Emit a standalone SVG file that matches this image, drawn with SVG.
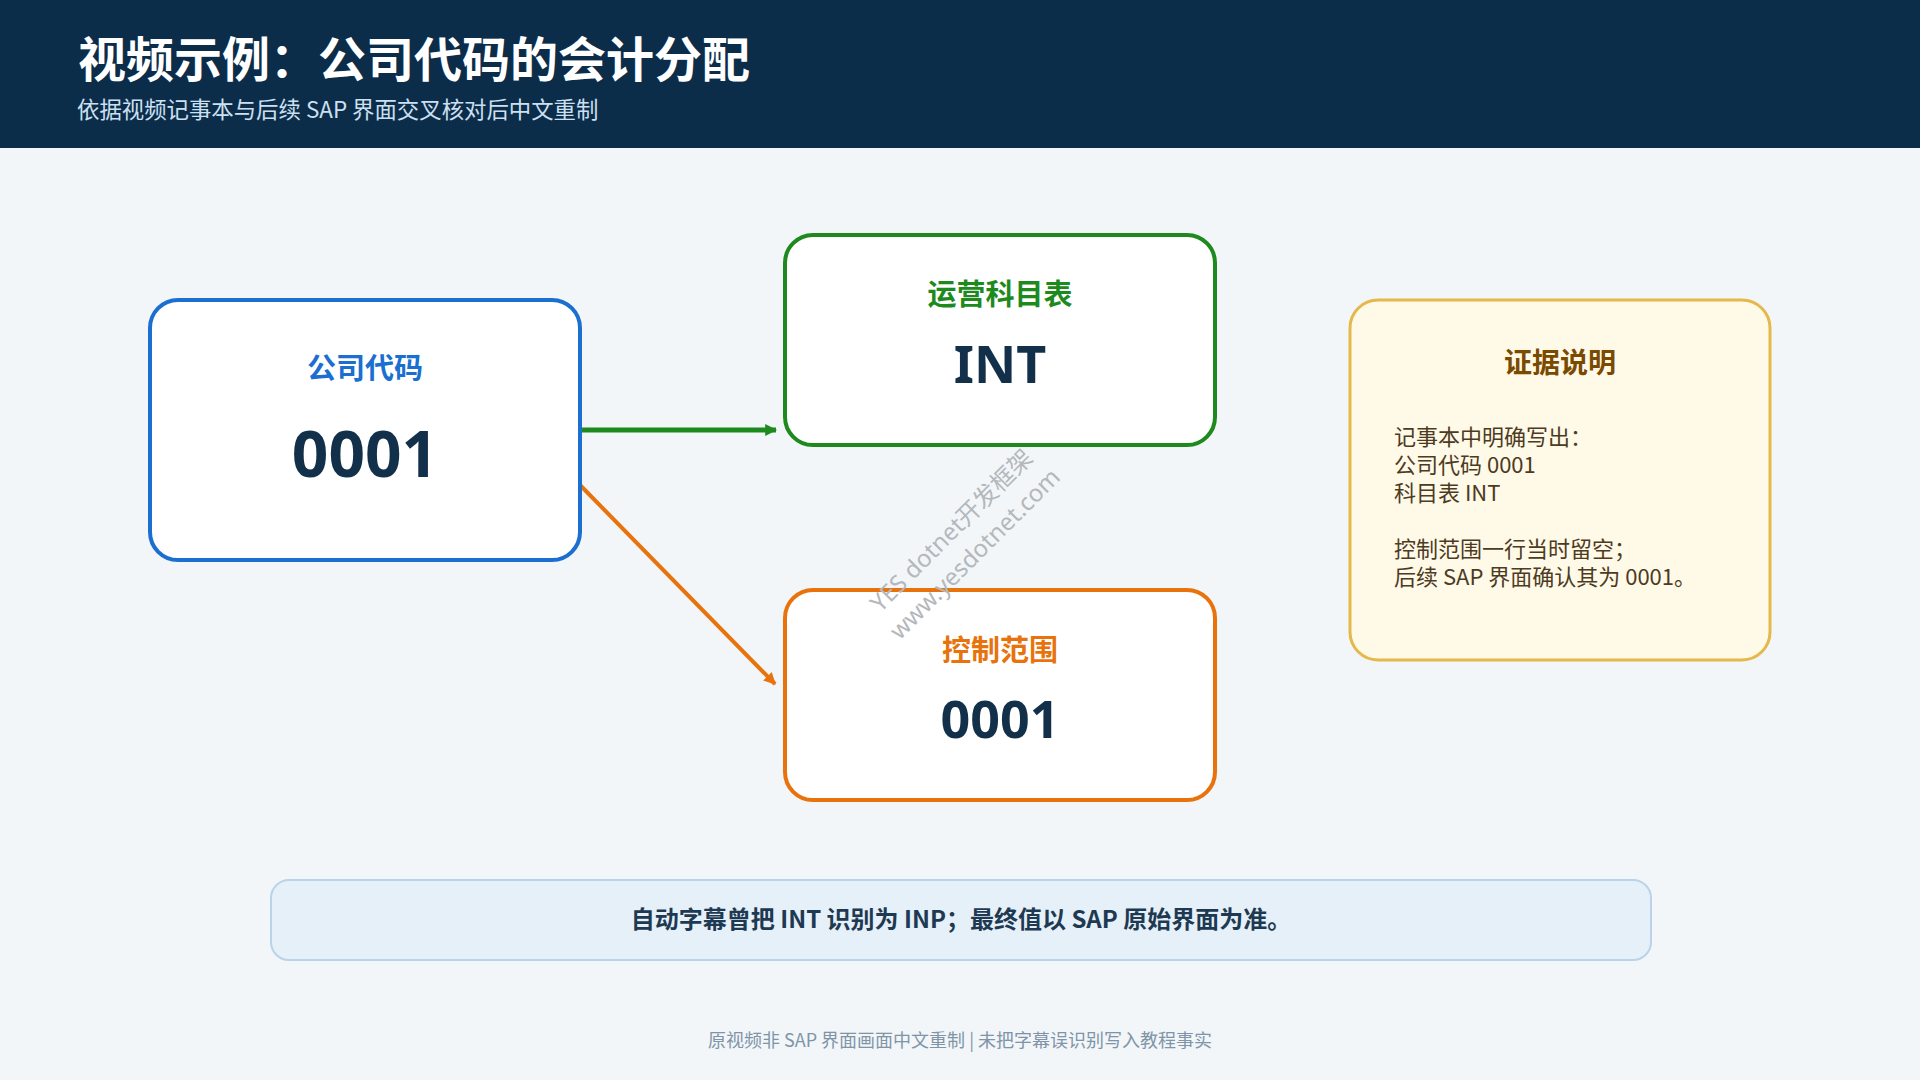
<svg xmlns="http://www.w3.org/2000/svg" width="1920" height="1080" viewBox="0 0 1920 1080">
  <style>
    .cjk { font-family: "Noto Sans CJK SC", "Noto Sans", sans-serif; }
    .num { font-family: "Noto Sans", "Noto Sans CJK SC", sans-serif; font-weight: 700; fill: #12304a; }
    .node { fill: #ffffff; stroke-width: 4; }
    .lbl { font-family: "Noto Sans CJK SC", sans-serif; font-weight: 700; font-size: 29px; text-anchor: middle; }
    .body { font-family: "Noto Sans CJK SC", "Noto Sans", sans-serif; font-size: 22px; fill: #4d3b1f; }
  </style>
  <defs>
    <marker id="arrG" viewBox="0 0 10 10" refX="9" refY="5" markerWidth="12" markerHeight="12" markerUnits="userSpaceOnUse" orient="auto">
      <path d="M0,0 L10,5 L0,10 z" fill="#1e8a1e"/>
    </marker>
    <marker id="arrO" viewBox="0 0 10 10" refX="9" refY="5" markerWidth="12" markerHeight="12" markerUnits="userSpaceOnUse" orient="auto">
      <path d="M0,0 L10,5 L0,10 z" fill="#e8720c"/>
    </marker>
  </defs>

  <rect x="0" y="0" width="1920" height="1080" fill="#f2f6f9"/>

  <g id="header">
    <rect x="0" y="0" width="1920" height="148" fill="#0c2d4a"/>
    <text x="78" y="77" class="cjk" font-size="48" font-weight="700" fill="#ffffff">视频示例：公司代码的会计分配</text>
    <text x="77" y="118" class="cjk" font-size="22.4" fill="#cde0f2">依据视频记事本与后续 SAP 界面交叉核对后中文重制</text>
  </g>

  <g id="connectors">
    <line x1="580" y1="430" x2="776" y2="430" stroke="#1e8a1e" stroke-width="5" marker-end="url(#arrG)"/>
    <line x1="580" y1="485" x2="775" y2="684" stroke="#e8720c" stroke-width="4" marker-end="url(#arrO)"/>
  </g>

  <g id="node-company-code">
    <rect x="150" y="300" width="430" height="260" rx="28" class="node" stroke="#1a6fd0"/>
    <text x="365" y="379" class="lbl" fill="#1a6fd0">公司代码</text>
    <text x="365" y="477" class="num" font-size="64" text-anchor="middle">0001</text>
  </g>

  <g id="node-chart-of-accounts">
    <rect x="785" y="235" width="430" height="210" rx="28" class="node" stroke="#1e8a1e"/>
    <text x="1000" y="305" class="lbl" fill="#1e8a1e">运营科目表</text>
    <text x="1000" y="383" class="num" font-size="52" text-anchor="middle">INT</text>
  </g>

  <g id="node-controlling-area">
    <rect x="785" y="590" width="430" height="210" rx="28" class="node" stroke="#e8720c"/>
    <text x="1000" y="661" class="lbl" fill="#e8720c">控制范围</text>
    <text x="1000" y="738" class="num" font-size="52" text-anchor="middle">0001</text>
  </g>

  <g id="watermark" transform="translate(963,542) rotate(-45)" font-family="Noto Sans, Noto Sans CJK SC, sans-serif" font-size="24" fill="#b4b8bc" text-anchor="middle">
    <text x="0" y="-8">YES dotnet开发框架</text>
    <text x="0" y="25">www.yesdotnet.com</text>
  </g>

  <g id="evidence">
    <rect x="1350" y="300" width="420" height="360" rx="28" fill="#fff9e8" stroke="#e5b84a" stroke-width="3"/>
    <text x="1560" y="373" class="cjk" font-size="28" font-weight="700" fill="#7a4a00" text-anchor="middle">证据说明</text>
    <text class="body">
      <tspan x="1394" y="445">记事本中明确写出：</tspan>
      <tspan x="1394" y="473">公司代码 0001</tspan>
      <tspan x="1394" y="501">科目表 INT</tspan>
      <tspan x="1394" y="557">控制范围一行当时留空；</tspan>
      <tspan x="1394" y="585">后续 SAP 界面确认其为 0001。</tspan>
    </text>
  </g>

  <g id="note">
    <rect x="271" y="880" width="1380" height="80" rx="18" fill="#e6f0f9" stroke="#b9d3ea" stroke-width="2"/>
    <text x="961" y="928" class="cjk" font-size="24" font-weight="700" fill="#1e3a52" text-anchor="middle">自动字幕曾把 INT 识别为 INP；最终值以 SAP 原始界面为准。</text>
  </g>

  <g id="footer">
    <text x="960" y="1047" class="cjk" font-size="18" fill="#8094a8" text-anchor="middle">原视频非 SAP 界面画面中文重制 | 未把字幕误识别写入教程事实</text>
  </g>
</svg>
